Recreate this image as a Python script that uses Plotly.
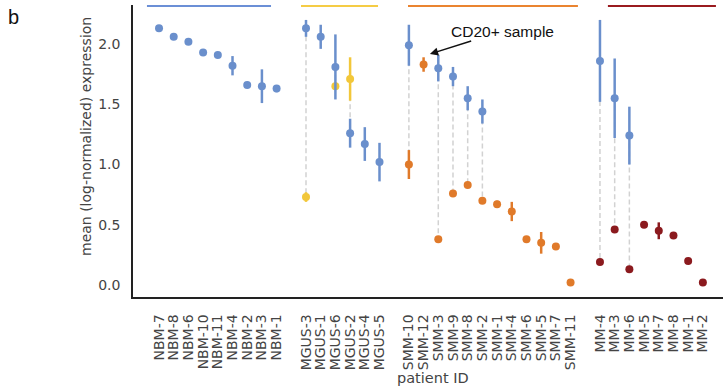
import plotly.graph_objects as go

# ---------------- data ----------------
nbm_ids = ["NBM-7", "NBM-8", "NBM-6", "NBM-10", "NBM-11", "NBM-4", "NBM-2", "NBM-3", "NBM-1"]
nbm_blue = [2.13, 2.06, 2.02, 1.93, 1.91, 1.82, 1.66, 1.65, 1.63]
nbm_blue_err = [0.02, 0.01, 0.01, 0.01, 0.01, 0.08, 0.01, 0.14, 0.03]

mgus_ids = ["MGUS-3", "MGUS-1", "MGUS-6", "MGUS-2", "MGUS-4", "MGUS-5"]
mgus_blue = [2.13, 2.06, 1.81, 1.26, 1.17, 1.02]
mgus_blue_err = [0.07, 0.10, 0.27, 0.12, 0.14, 0.16]
mgus_other = [0.73, None, 1.65, 1.71, None, None]
mgus_other_err = [0.04, 0, 0.03, 0.18, 0, 0]

smm_ids = ["SMM-10", "SMM-12", "SMM-3", "SMM-9", "SMM-8", "SMM-2", "SMM-1",
           "SMM-4", "SMM-6", "SMM-5", "SMM-7", "SMM-11"]
smm_blue = [1.99, None, 1.80, 1.73, 1.55, 1.44, None, None, None, None, None, None]
smm_blue_err = [0.17, 0, 0.11, 0.08, 0.10, 0.10, 0, 0, 0, 0, 0, 0]
smm_other = [1.00, 1.83, 0.38, 0.76, 0.83, 0.70, 0.67, 0.61, 0.38, 0.35, 0.32, 0.02]
smm_other_err = [0.12, 0.06, 0.01, 0.01, 0.02, 0.01, 0.03, 0.08, 0.01, 0.09, 0.01, 0.01]

mm_ids = ["MM-4", "MM-3", "MM-6", "MM-5", "MM-7", "MM-8", "MM-1", "MM-2"]
mm_blue = [1.86, 1.55, 1.24, None, None, None, None, None]
mm_blue_err = [0.34, 0.33, 0.24, 0, 0, 0, 0, 0]
mm_other = [0.19, 0.46, 0.13, 0.50, 0.45, 0.41, 0.20, 0.02]
mm_other_err = [0.01, 0.01, 0.01, 0.01, 0.07, 0.02, 0.01, 0.01]

y_ticks = [0.0, 0.5, 1.0, 1.5, 2.0]
y_ticklabels = ["0.0", "0.5", "1.0", "1.5", "2.0"]

# ---------------- style ----------------
BLUE = "#6a8fcc"
OTHER_COLORS = {"NBM": None, "MGUS": "#f2c73a", "SMM": "#e07a2a", "MM": "#8b1a1e"}
TOPLINE_COLORS = {"NBM": "#6b8fd6", "MGUS": "#f5cc45", "SMM": "#ea8430", "MM": "#9a1b1f"}
# decorative group bars at the top (x in index units)
TOPLINE_SPANS = {"NBM": (-0.82, 7.62), "MGUS": (9.66, 14.9), "SMM": (16.94, 28.5), "MM": (30.54, 37.89)}

groups = [
    ("NBM", nbm_ids, nbm_blue, nbm_blue_err, [None] * len(nbm_ids), [0] * len(nbm_ids)),
    ("MGUS", mgus_ids, mgus_blue, mgus_blue_err, mgus_other, mgus_other_err),
    ("SMM", smm_ids, smm_blue, smm_blue_err, smm_other, smm_other_err),
    ("MM", mm_ids, mm_blue, mm_blue_err, mm_other, mm_other_err),
]

fig = go.Figure()

tickvals, ticktext = [], []
conn_x, conn_y = [], []
pos = 0
group_pos = {}
for name, ids, blue, berr, other, oerr in groups:
    xs = list(range(pos, pos + len(ids)))
    group_pos[name] = xs
    tickvals += xs
    ticktext += ids
    for x, b, o in zip(xs, blue, other):
        if b is not None and o is not None:
            conn_x += [x, x, None]
            conn_y += [b, o, None]
    pos += len(ids) + 1

fig.add_trace(go.Scatter(x=conn_x, y=conn_y, mode="lines",
                         line=dict(color="#d2d2d2", width=1.5, dash="5px,3px"),
                         hoverinfo="skip", showlegend=False))

for name, ids, blue, berr, other, oerr in groups:
    xs = group_pos[name]
    if OTHER_COLORS[name]:
        c = OTHER_COLORS[name]
        fig.add_trace(go.Scatter(
            x=xs, y=other, mode="markers",
            marker=dict(color=c, size=8, line=dict(width=0)),
            error_y=dict(type="data", array=oerr, visible=True, color=c, thickness=2.5, width=0),
            showlegend=False))
    fig.add_trace(go.Scatter(
        x=xs, y=blue, mode="markers",
        marker=dict(color=BLUE, size=8, line=dict(width=0)),
        error_y=dict(type="data", array=berr, visible=True, color=BLUE, thickness=2.5, width=0),
        showlegend=False))

W, H = 723, 392
L, R, T, B = 133, 0, 5, 95
PW, PH = W - L - R, H - T - B

shapes = []
for name, (x0, x1) in TOPLINE_SPANS.items():
    shapes.append(dict(type="line", xref="x", yref="paper", x0=x0, x1=x1,
                       y0=(PH - 1) / PH, y1=(PH - 1) / PH,
                       line=dict(color=TOPLINE_COLORS[name], width=2)))

annotations = [
    dict(text="b", x=-(L - 6) / PW, y=(PH + T - 4) / PH, xref="paper", yref="paper",
         xanchor="left", yanchor="top", showarrow=False,
         font=dict(family="Liberation Sans, Arial", size=20, color="#111")),
    dict(text="mean (log-normalized) expression", textangle=-90,
         x=(86 - L) / PW, y=(PH + T - 137) / PH, xref="paper", yref="paper",
         xanchor="center", yanchor="middle", showarrow=False,
         font=dict(family="DejaVu Sans", size=14, color="#444")),
    dict(text="patient ID", x=(432.5 - L) / PW, y=(PH + T - 378) / PH, xref="paper", yref="paper",
         xanchor="center", yanchor="middle", showarrow=False,
         font=dict(family="DejaVu Sans", size=14.5, color="#444")),
    dict(text="CD20+ sample", x=18.43, y=1.917, xref="x", yref="y",
         ax=73, ay=-23, showarrow=True, arrowhead=2, arrowsize=1.1, arrowwidth=1.5,
         arrowcolor="#111",
         font=dict(family="Liberation Sans, Arial", size=15.5, color="#111")),
]

fig.update_layout(
    width=W, height=H,
    margin=dict(l=L, r=R, t=T, b=B, pad=0),
    paper_bgcolor="white", plot_bgcolor="white",
    shapes=shapes, annotations=annotations,
    xaxis=dict(range=[-1.77, 38.37], tickvals=tickvals, ticktext=ticktext,
               tickangle=-90, ticks="", showgrid=False, zeroline=False,
               showline=True, linecolor="#222", linewidth=1.5,
               ticklabelstandoff=10,
               tickfont=dict(family="DejaVu Sans", size=14, color="#444")),
    yaxis=dict(range=[-0.0996, 2.324], tickvals=y_ticks, ticktext=y_ticklabels,
               ticks="", showgrid=False, zeroline=False,
               showline=True, linecolor="#222", linewidth=1.5,
               ticklabelstandoff=8,
               tickfont=dict(family="DejaVu Sans", size=14, color="#444")),
)

fig.write_html("out.html")
